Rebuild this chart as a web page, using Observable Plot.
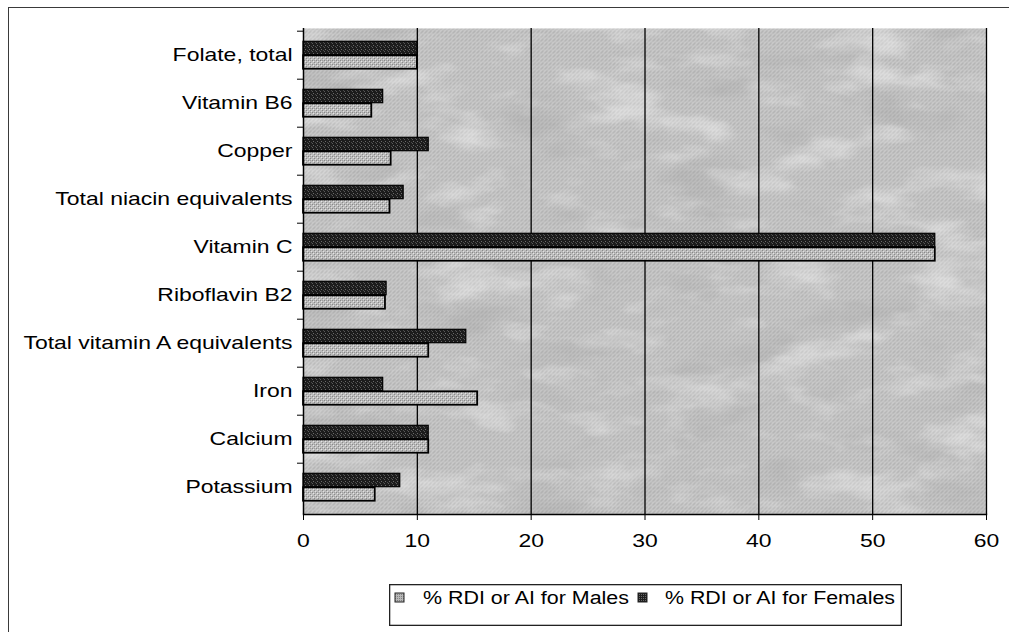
<!DOCTYPE html>
<html>
<head>
<meta charset="utf-8">
<script src="https://cdn.jsdelivr.net/npm/d3@7"></script>
<script src="https://cdn.jsdelivr.net/npm/@observablehq/plot@0.6"></script>
<style>
  body { margin: 0; background: #fff; font-family: "Liberation Sans", Arial, sans-serif; }
  #wrap { position: relative; width: 1009px; height: 632px; overflow: hidden; background: #fff; }
  #outer { position: absolute; left: 8px; top: 7px; width: 1100px; height: 700px;
           border-left: 1.5px solid #3a3a3a; border-top: 1.5px solid #3a3a3a; }
  #chart { position: absolute; left: 0; top: 0; }
  #legend { position: absolute; left: 389px; top: 584px; }
</style>
</head>
<body>
<div id="wrap">
  <div id="outer"></div>
  <div id="chart"></div>
  <div id="legend"></div>
</div>
<script>
// ---- data ----
const categories = ["Folate, total", "Vitamin B6", "Copper", "Total niacin equivalents", "Vitamin C",
  "Riboflavin B2", "Total vitamin A equivalents", "Iron", "Calcium", "Potassium"];
const males   = [10.0, 6.0, 7.7, 7.6, 55.5, 7.2, 11.0, 15.3, 11.0, 6.3];
const females = [10.0, 7.0, 11.0, 8.8, 55.5, 7.3, 14.3, 7.0, 11.0, 8.5];
const xTicks = [0, 10, 20, 30, 40, 50, 60];
const seriesLabels = ["% RDI or AI for Males", "% RDI or AI for Females"];

const maleRows = categories.map((c, i) => ({category: c, value: males[i]}));
const femaleRows = categories.map((c, i) => ({category: c, value: females[i]}));

const W = 1009, H = 575, mTop = 28, mBottom = 61, mLeft = 303, mRight = 23;
const step = (H - mTop - mBottom) / categories.length;
const barH = 14;
const half = step / 2;
const STRETCH = 1.24;

const plot = Plot.plot({
  width: W, height: H,
  marginTop: mTop, marginBottom: mBottom, marginLeft: mLeft, marginRight: mRight,
  style: {fontFamily: "'Liberation Sans', Arial, sans-serif", fontSize: "18.5px", color: "#000", background: "transparent"},
  x: {domain: [0, 60]},
  y: {domain: categories, padding: 0},
  marks: [
    Plot.frame({fill: "url(#bgPat)", stroke: "none"}),
    Plot.gridX(xTicks.slice(1), {stroke: "#000", strokeOpacity: 1, strokeWidth: 1.3}),
    Plot.barX(femaleRows, {x: "value", y: "category", insetTop: half - barH, insetBottom: half,
      fill: "url(#darkPat)", stroke: "#000", strokeWidth: 1.2}),
    Plot.barX(maleRows, {x: "value", y: "category", insetTop: half, insetBottom: half - barH,
      fill: "url(#lightPat)", stroke: "#000", strokeWidth: 1.8}),
    Plot.ruleX([0], {stroke: "#000", strokeWidth: 1.5}),
    Plot.frame({anchor: "bottom", stroke: "#000", strokeWidth: 1.5}),
    Plot.axisX(xTicks, {tickSize: 6, tickPadding: 13, label: null, stroke: "#000"}),
    Plot.axisY({tickSize: 0, tickPadding: 11, label: null}),
    Plot.axisY({tickSize: 6, dy: -half, tickFormat: () => "", label: null, stroke: "#000"})
  ]
});

document.getElementById("chart").appendChild(plot);

// ---- textures ----
const svg = d3.select(plot);
const defs = svg.insert("defs", ":first-child");
function pattern(id, size, base, dots) {
  const p = defs.append("pattern").attr("id", id).attr("patternUnits", "userSpaceOnUse")
    .attr("width", size).attr("height", size);
  p.append("rect").attr("width", size).attr("height", size).attr("fill", base);
  dots.forEach(([x, y, c]) => p.append("rect").attr("x", x).attr("y", y)
    .attr("width", 1).attr("height", 1).attr("fill", c));
}
pattern("bgPat", 4, "#c4c4c4", [[0,0,"#868686"],[2,2,"#868686"],[1,1,"#eeeeee"],[3,3,"#eeeeee"],[2,0,"#a4a4a4"],[0,2,"#acacac"],[3,1,"#e4e4e4"]]);
pattern("darkPat", 4, "#1c1c1c", [[1,1,"#6a6a6a"],[3,2,"#4a4a4a"],[0,3,"#5a5a5a"]]);
pattern("lightPat", 4, "#bcbcbc", [[0,0,"#888888"],[2,2,"#8a8a8a"],[1,1,"#e6e6e6"],[3,3,"#e0e0e0"],[2,0,"#a0a0a0"]]);

// mottled overlays on the plot background (light and dark blotches)
function mottle(id, channel, seed, gray) {
  const a = channel === "r" ? [3.2, 0, 0, 0, -1.6] : [0, 3.2, 0, 0, -1.7];
  const vals = [0,0,0,0,gray, 0,0,0,0,gray, 0,0,0,0,gray].concat(a).join(" ");
  const f = defs.append("filter").attr("id", id).attr("x", 0).attr("y", 0).attr("width", "100%").attr("height", "100%");
  f.append("feTurbulence").attr("type", "fractalNoise").attr("baseFrequency", "0.012 0.03")
    .attr("numOctaves", 4).attr("seed", seed).attr("result", "n");
  f.append("feColorMatrix").attr("in", "n").attr("type", "matrix").attr("values", vals).attr("result", "w");
  f.append("feComposite").attr("in", "w").attr("in2", "SourceGraphic").attr("operator", "in");
}
mottle("mottleLight", "r", 7, 1);
mottle("mottleDark", "g", 11, 0.35);
const frameRect = plot.querySelector("g[aria-label=frame] rect, rect[aria-label=frame]") ||
  plot.querySelector("g[aria-label=frame]");
if (frameRect) {
  [["mottleDark", 0.3], ["mottleLight", 0.38]].forEach(([id, op]) => {
    const clone = frameRect.cloneNode(true);
    clone.setAttribute("fill", "#fff");
    clone.setAttribute("filter", `url(#${id})`);
    clone.setAttribute("opacity", op);
    frameRect.parentNode.insertBefore(clone, frameRect.nextSibling);
  });
}

// horizontally stretched lettering, as in the scanned original
function stretch(root) {
  root.querySelectorAll("text").forEach(t => {
    const w = t.getComputedTextLength();
    if (w > 0) {
      t.setAttribute("textLength", (w * STRETCH).toFixed(1));
      t.setAttribute("lengthAdjust", "spacingAndGlyphs");
    }
  });
}
stretch(plot);

// ---- legend (box below the chart) ----
const LW = 513, LH = 42;
const lsvg = d3.select("#legend").append("svg").attr("width", LW).attr("height", LH)
  .style("font-family", "'Liberation Sans', Arial, sans-serif").style("font-size", "18px");
lsvg.append("rect").attr("x", 0.65).attr("y", 0.65).attr("width", LW - 1.3).attr("height", LH - 1.3)
  .attr("fill", "#fff").attr("stroke", "#222").attr("stroke-width", 1.3);
const swFills = ["url(#lgLight)", "url(#lgDark)"];
const ldefs = lsvg.append("defs");
[["lgLight", "#b8b8b8", "#808080"], ["lgDark", "#1e1e1e", "#666"]].forEach(([id, base, dot]) => {
  const p = ldefs.append("pattern").attr("id", id).attr("patternUnits", "userSpaceOnUse").attr("width", 2).attr("height", 2);
  p.append("rect").attr("width", 2).attr("height", 2).attr("fill", base);
  p.append("rect").attr("width", 1).attr("height", 1).attr("fill", dot);
});
const swX = [6, 249], txX = [34, 276], txLen = [206, 230];
seriesLabels.forEach((lab, i) => {
  lsvg.append("rect").attr("x", swX[i]).attr("y", 9).attr("width", 9).attr("height", 9)
    .attr("fill", swFills[i]).attr("stroke", "#222").attr("stroke-width", 1);
  lsvg.append("text").attr("x", txX[i]).attr("y", 20).attr("fill", "#000")
    .attr("textLength", txLen[i]).attr("lengthAdjust", "spacingAndGlyphs").text(lab);
});
</script>
</body>
</html>
